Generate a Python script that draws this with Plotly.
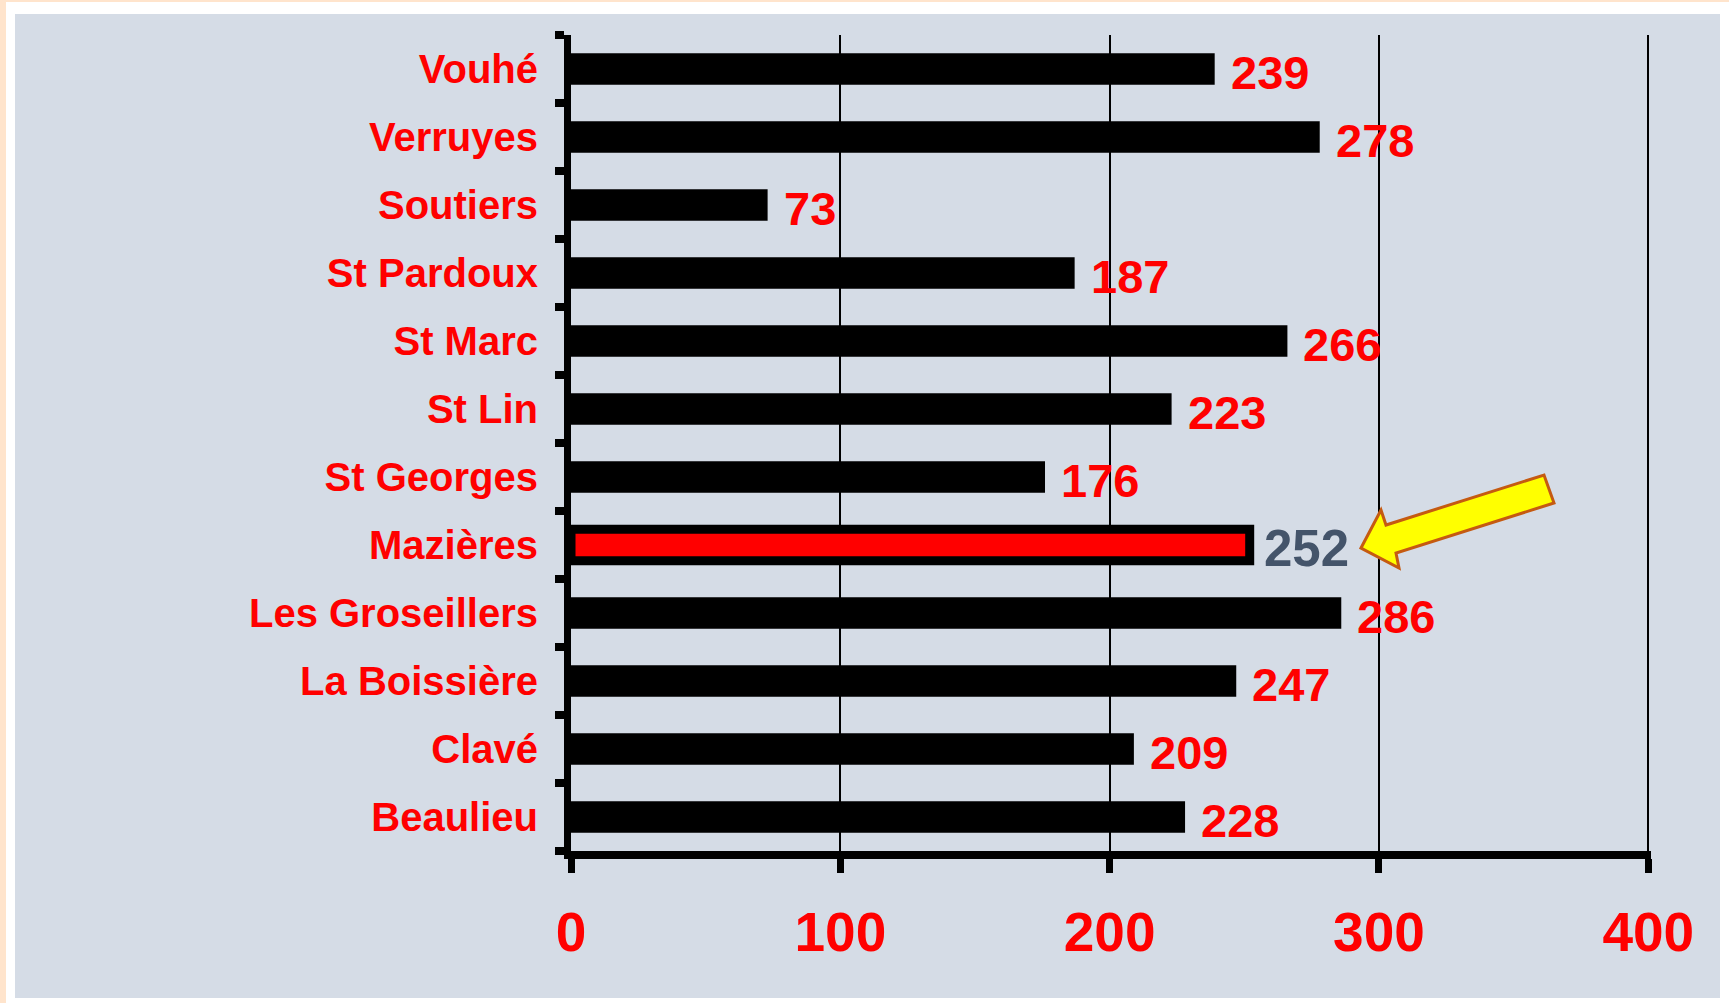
import plotly.graph_objects as go

# ---- data ----
communes = ["Beaulieu", "Clavé", "La Boissière", "Les Groseillers", "Mazières",
            "St Georges", "St Lin", "St Marc", "St Pardoux", "Soutiers",
            "Verruyes", "Vouhé"]
values = [228, 209, 247, 286, 252, 176, 223, 266, 187, 73, 278, 239]
highlight = "Mazières"
x_ticks = [0, 100, 200, 300, 400]

# ---- layout constants ----
W, H = 1729, 1003
ML, MR, MT, MB = 571, 78, 35, 152
PW, PH = W - ML - MR, H - MT - MB
X_MAX = 401

def px(x):
    return (x - ML) / PW

def py(y):
    return (H - MB - y) / PH

FONT = "Liberation Sans, Arial, sans-serif"
RED = "#FF0000"
BG = "#D5DCE6"

bar_colors = [RED if c == highlight else "black" for c in communes]
line_widths = [9 if c == highlight else 0 for c in communes]

fig = go.Figure(go.Bar(
    x=values, y=communes, orientation="h",
    marker=dict(color=bar_colors, line=dict(color="black", width=line_widths)),
    width=0.46,
    hoverinfo="x+y",
))

# value labels
for c, v in zip(communes, values):
    hl = c == highlight
    fig.add_annotation(
        x=v, y=c, xref="x", yref="y", text=str(v), showarrow=False,
        xanchor="left", yanchor="middle", xshift=14 if not hl else 12,
        yshift=-3,
        font=dict(family=FONT, size=51 if hl else 47,
                  color="#44546A" if hl else RED, weight="bold"),
    )

shapes = [
    # outer peach border
    dict(type="rect", xref="paper", yref="paper", x0=px(0), x1=px(W), y0=py(H), y1=py(0),
         fillcolor="#FFE4CC", line_width=0, layer="below"),
    dict(type="rect", xref="paper", yref="paper", x0=px(6), x1=px(W), y0=py(H), y1=py(2),
         fillcolor="white", line_width=0, layer="below"),
    dict(type="rect", xref="paper", yref="paper", x0=px(15), x1=px(1720), y0=py(998), y1=py(14),
         fillcolor=BG, line_width=0, layer="below"),
]

# block arrow pointing to the highlighted value
arrow_pts = [(1361, 548), (1381, 510), (1386, 525), (1544, 475), (1554, 503),
             (1396, 553), (1399, 568)]
path = "M " + " L ".join(f"{px(a):.5f},{py(b):.5f}" for a, b in arrow_pts) + " Z"
shapes.append(dict(type="path", xref="paper", yref="paper", path=path,
                   fillcolor="#FFFF00", line=dict(color="#C55A11", width=3), layer="above"))

fig.update_layout(
    width=W, height=H,
    margin=dict(l=ML, r=MR, t=MT, b=MB),
    paper_bgcolor="white", plot_bgcolor=BG,
    showlegend=False,
    shapes=shapes,
    xaxis=dict(range=[0, X_MAX], tickvals=x_ticks, ticktext=[str(t) for t in x_ticks],
               showgrid=True, gridcolor="black", gridwidth=1.5,
               showline=True, linecolor="black", linewidth=8,
               ticks="outside", ticklen=14, tickwidth=7, tickcolor="black",
               ticklabelstandoff=12, zeroline=False,
               tickfont=dict(family=FONT, size=55, color=RED, weight="bold")),
    yaxis=dict(type="category", categoryorder="array", categoryarray=communes,
               range=[-0.5, len(communes) - 0.5],
               showline=True, linecolor="black", linewidth=7,
               ticks="outside", tickson="boundaries", ticklen=9, tickwidth=8,
               tickcolor="black", ticklabelstandoff=18, showgrid=False,
               tickfont=dict(family=FONT, size=40, color=RED, weight="bold")),
)

fig.write_html(
    "out.html",
    config={"displayModeBar": False},
    post_script="document.body.style.margin='0';document.body.style.overflow='hidden';",
)
